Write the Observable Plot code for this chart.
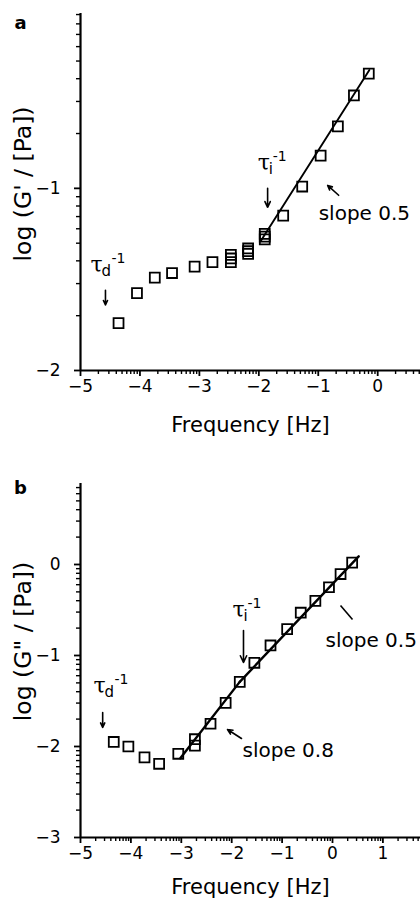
<!DOCTYPE html>
<html><head><meta charset="utf-8">
<script src="https://cdn.jsdelivr.net/npm/d3@7"></script>
<script src="https://cdn.jsdelivr.net/npm/@observablehq/plot@0.6"></script>
<style>body{margin:0;background:#fff} #chart{width:420px} #chart svg{display:block}</style>
</head><body><div id="chart"></div>
<script>
// ---------- Panel a data (log frequency [Hz], log G' [Pa]) ----------
const aFreq = [-4.36, -4.05, -3.75, -3.46, -3.08, -2.78, -2.47, -2.47, -2.47, -2.18, -2.18, -2.18, -1.90, -1.90, -1.90, -1.59, -1.27, -0.96, -0.67, -0.40, -0.15];
const aLogG = [-1.74, -1.575, -1.49, -1.465, -1.43, -1.405, -1.365, -1.385, -1.405, -1.33, -1.345, -1.36, -1.25, -1.265, -1.28, -1.15, -0.99, -0.82, -0.66, -0.49, -0.37];
const aFitFreq = [-1.97, -0.14];
const aFitLogG = [-1.29, -0.35];

// ---------- Panel b data (log frequency [Hz], log G'' [Pa]) ----------
const bFreq = [-4.34, -4.05, -3.73, -3.44, -3.06, -2.73, -2.73, -2.42, -2.12, -1.84, -1.55, -1.23, -0.90, -0.63, -0.34, -0.07, 0.16, 0.39];
const bLogG = [-1.95, -2.0, -2.12, -2.19, -2.08, -1.99, -1.92, -1.75, -1.52, -1.29, -1.08, -0.89, -0.71, -0.53, -0.40, -0.25, -0.105, 0.02];
const bFit1Freq = [-3.02, -1.84];
const bFit1LogG = [-2.13, -1.29];
const bFit2Freq = [-1.84, 0.52];
const bFit2LogG = [-1.29, 0.09];

// ---------- Axis ticks ----------
const aXTicks = [-5, -4, -3, -2, -1, 0];
const aYTicks = [-2, -1];
const bXTicks = [-5, -4, -3, -2, -1, 0, 1];
const bYTicks = [-3, -2, -1, 0];
const minorK = [2, 3, 4, 5, 6, 7, 8, 9];

// ---------- Annotations (data coordinates) ----------
const aTaus = [{sub: "d", x: -4.832, y: -1.4615}, {sub: "i", x: -2.02, y: -0.901}];
const aArrows = [
  {x1: -4.58, y1: -1.56, x2: -4.58, y2: -1.64},
  {x1: -1.852, y1: -1.0, x2: -1.852, y2: -1.104},
  {x1: -0.657, y1: -1.038, x2: -0.842, y2: -0.984}
];
const aLabels = [{text: "slope 0.5", x: -0.993, y: -1.176}];

const bTaus = [{sub: "d", x: -4.742, y: -1.407}, {sub: "i", x: -1.984, y: -0.582}];
const bArrows = [
  {x1: -4.56, y1: -1.626, x2: -4.56, y2: -1.79},
  {x1: -1.766, y1: -0.725, x2: -1.766, y2: -1.077},
  {x1: -1.806, y1: -1.912, x2: -2.083, y2: -1.813}
];
const bLinks = [{x1: 0.159, y1: -0.45, x2: 0.397, y2: -0.604}];
const bLabels = [{text: "slope 0.5", x: -0.139, y: -0.912}, {text: "slope 0.8", x: -1.786, y: -2.12}];

const SANS = "'DejaVu Sans', 'Liberation Sans', Arial, sans-serif";
const SERIF = "'DejaVu Serif', 'Liberation Serif', serif";
const fmt = d3.format("d");

function minorTicks(lo, hi) {
  const out = [];
  for (let n = Math.floor(lo); n < hi; n++)
    for (const k of minorK) {
      const v = n + Math.log10(k);
      if (v > lo && v < hi) out.push(v);
    }
  return out;
}

function panel(o) {
  const pts = o.freq.map((f, i) => ({f, g: o.logG[i]}));
  const fitMarks = o.fits.map(([fx, fy]) =>
    Plot.line(fx.map((f, i) => ({f, g: fy[i]})), {x: "f", y: "g", stroke: "black", strokeWidth: o.fitWidth}));
  const supText = (sub, dx) => Plot.text(o.taus.filter(d => d.sub === sub), {
    x: "x", y: "y", text: () => "-1", textAnchor: "start", lineAnchor: "bottom",
    fontSize: 14, fontFamily: SANS, dx, dy: -9
  });
  return Plot.plot({
    width: 420, height: o.height,
    marginLeft: 80, marginRight: 0, marginTop: o.marginTop, marginBottom: o.marginBottom,
    style: {fontFamily: SANS, fontSize: "17px", color: "#000", background: "#fff", overflow: "visible"},
    x: {domain: o.xDomain},
    y: {domain: o.yDomain},
    marks: [
      Plot.axisX({ticks: minorTicks(o.xDomain[0], o.xDomain[1]), tickSize: 4, tickFormat: () => "", strokeWidth: 1.4, label: null}),
      Plot.axisX({ticks: o.xTicks, tickSize: 6, tickPadding: 3, tickFormat: fmt, strokeWidth: 1.8, label: null, fontSize: 17}),
      Plot.axisY({ticks: minorTicks(o.yDomain[0], o.yDomain[1]), tickSize: 4, tickFormat: () => "", strokeWidth: 1.4, label: null}),
      Plot.axisY({ticks: o.yTicks, tickSize: 6, tickPadding: 14, tickFormat: fmt, strokeWidth: 1.8, label: null, fontSize: 17}),
      Plot.ruleY([o.yDomain[0]], {stroke: "black", strokeWidth: 2.2}),
      Plot.ruleX([o.xDomain[0]], {stroke: "black", strokeWidth: 2.2}),
      ...fitMarks,
      Plot.dot(pts, {x: "f", y: "g", symbol: "square", r: 5.6, stroke: "black", strokeWidth: 1.8, fill: "none"}),
      Plot.arrow(o.arrows, {x1: "x1", y1: "y1", x2: "x2", y2: "y2", stroke: "black", strokeWidth: 1.6, headLength: 7, headAngle: 50}),
      Plot.link(o.links || [], {x1: "x1", y1: "y1", x2: "x2", y2: "y2", stroke: "black", strokeWidth: 1.6}),
      Plot.text(o.labels, {x: "x", y: "y", text: "text", textAnchor: "start", lineAnchor: "bottom", fontSize: 20, fontFamily: SANS}),
      // tau symbols with subscript and superscript
      Plot.text(o.taus, {x: "x", y: "y", text: () => "τ", textAnchor: "start", lineAnchor: "bottom", fontSize: 22, fontFamily: SERIF}),
      Plot.text(o.taus, {x: "x", y: "y", text: "sub", textAnchor: "start", lineAnchor: "bottom", fontSize: 15, fontFamily: SANS, dx: 11, dy: 4}),
      supText("d", 21),
      supText("i", 15),
      // axis titles and panel letter
      Plot.text([o.yLabel], {frameAnchor: "left", rotate: -90, textAnchor: "middle", lineAnchor: "middle", dx: -57, dy: o.yLabelDy, fontSize: 23.5, fontFamily: SANS}),
      Plot.text(["Frequency [Hz]"], {frameAnchor: "bottom", lineAnchor: "bottom", dy: o.xLabelDy, fontSize: 21, fontFamily: SANS}),
      Plot.text([o.letter], {frameAnchor: "top-left", textAnchor: "middle", lineAnchor: "middle", dx: -60, dy: o.letterDy, fontSize: 18, fontWeight: "bold", fontFamily: SANS})
    ]
  });
}

const chart = document.getElementById("chart");
chart.append(panel({
  height: 440, marginTop: 13, marginBottom: 70,
  xDomain: [-5, 0.72], yDomain: [-2, -0.04],
  xTicks: aXTicks, yTicks: aYTicks,
  freq: aFreq, logG: aLogG, fits: [[aFitFreq, aFitLogG]], fitWidth: 1.9,
  taus: aTaus, arrows: aArrows, labels: aLabels,
  yLabel: "log (G' / [Pa])", yLabelDy: -8, xLabelDy: 61,
  letter: "a", letterDy: 10
}));
chart.append(panel({
  height: 460, marginTop: 43, marginBottom: 63,
  xDomain: [-5, 1.746], yDomain: [-3, 0.89],
  xTicks: bXTicks, yTicks: bYTicks,
  freq: bFreq, logG: bLogG, fits: [[bFit1Freq, bFit1LogG], [bFit2Freq, bFit2LogG]], fitWidth: 2.4,
  taus: bTaus, arrows: bArrows, links: bLinks, labels: bLabels,
  yLabel: "log (G\" / [Pa])", yLabelDy: -19, xLabelDy: 56,
  letter: "b", letterDy: 5
}));
</script>
</body></html>
